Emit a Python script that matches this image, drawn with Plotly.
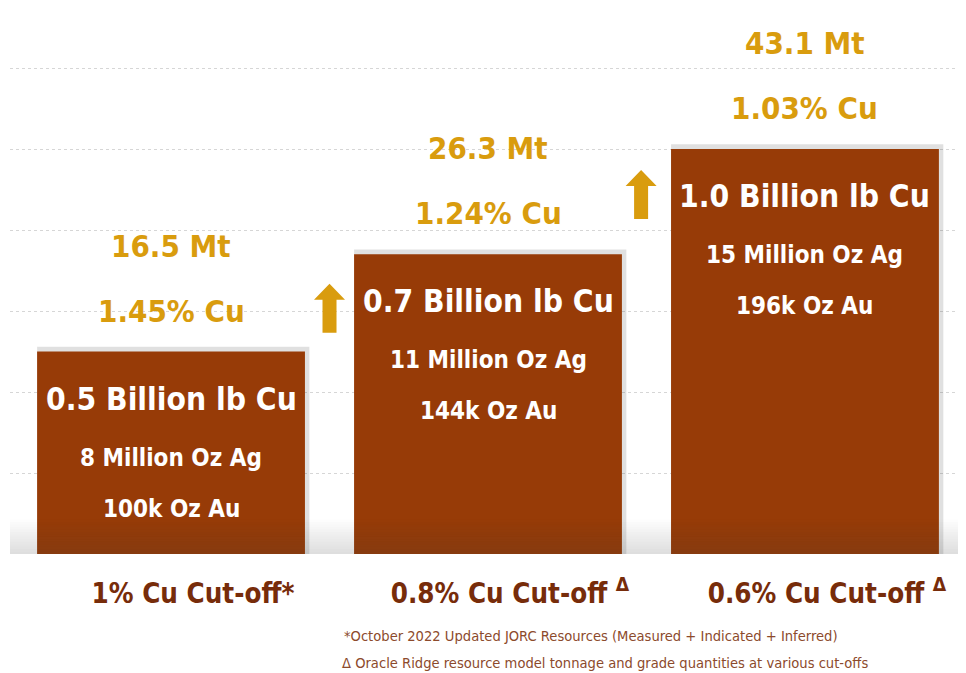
import plotly.graph_objects as go

# ---------------- data ----------------
categories = ["1% Cu Cut-off*", "0.8% Cu Cut-off <sup>Δ</sup>", "0.6% Cu Cut-off <sup>Δ</sup>"]
bar_height = [0.50, 0.74, 1.00]          # bar heights as drawn (billion lb Cu scale)
cu_blb = [0.5, 0.7, 1.0]                 # Billion lb Cu
ag_moz = [8, 11, 15]                     # Million Oz Ag
au_koz = [100, 144, 196]                 # k Oz Au
tonnage_mt = [16.5, 26.3, 43.1]          # Mt
grade_pct = [1.45, 1.24, 1.03]           # % Cu
grid_vals = [0.2, 0.4, 0.6, 0.8, 1.0, 1.2]
footnotes = [
    "*October 2022 Updated JORC Resources (Measured + Indicated + Inferred)",
    "Δ Oracle Ridge resource model tonnage and grade quantities at various cut-offs",
]

# ---------------- styles ----------------
FONT = "DejaVu Sans Condensed, sans-serif"
BAR = "#973B07"
GOLD = "#D99C0E"
LABEL = "#772C0A"
NOTE = "#8C4A2C"
W = 0.845
# the page body adds an 8px margin, so the figure is drawn 8px smaller
FIG_W, FIG_H = 958, 665
PLOT_TOP_PX = 546  # plot-area height in px
PX_PER_UNIT = 405

x = list(range(len(categories)))
fig = go.Figure()

# soft shadow behind bars
fig.add_trace(go.Bar(
    x=x, y=[h + 0.012 for h in bar_height], width=W + 0.014, offset=-W / 2,
    marker=dict(color="rgba(0,0,0,0.12)", line=dict(width=0)),
    hoverinfo="skip",
))
fig.add_trace(go.Bar(
    x=x, y=bar_height, width=W,
    marker=dict(color=BAR, line=dict(width=0)),
    hoverinfo="skip",
))

ann = []
for i in x:
    h = bar_height[i]
    ann.append(dict(x=i, y=h, yshift=106, text=f"{tonnage_mt[i]:.1f} Mt",
                    font=dict(family=FONT, size=31, color=GOLD, weight="bold")))
    ann.append(dict(x=i, y=h, yshift=41, text=f"{grade_pct[i]:.2f}% Cu",
                    font=dict(family=FONT, size=31, color=GOLD, weight="bold")))
    ann.append(dict(x=i, y=h, yshift=-47, text=f"{cu_blb[i]:.1f} Billion lb Cu",
                    font=dict(family=FONT, size=31.5, color="white", weight="bold")))
    ann.append(dict(x=i, y=h, yshift=-106, text=f"{ag_moz[i]} Million Oz Ag",
                    font=dict(family=FONT, size=24, color="white", weight="bold")))
    ann.append(dict(x=i, y=h, yshift=-157, text=f"{au_koz[i]}k Oz Au",
                    font=dict(family=FONT, size=24, color="white", weight="bold")))
for a in ann:
    a.update(showarrow=False, xanchor="center", yanchor="middle")

ann.append(dict(xref="paper", yref="paper", x=0.608, y=-0.150, text=footnotes[0],
                showarrow=False, xanchor="center", yanchor="middle",
                font=dict(family=FONT, size=14.6, color=NOTE)))
ann.append(dict(xref="paper", yref="paper", x=0.622, y=-0.198, text=footnotes[1],
                showarrow=False, xanchor="center", yanchor="middle",
                font=dict(family=FONT, size=14.6, color=NOTE)))

shapes = []
# floor shading gradient
n = 14
for k in range(n):
    y0 = 0.085 * k / n
    y1 = 0.085 * (k + 1) / n
    alpha = 0.17 * (1 - k / n)
    shapes.append(dict(type="rect", xref="paper", yref="y", x0=0, x1=1, y0=y0, y1=y1,
                       fillcolor=f"rgba(60,60,60,{alpha:.3f})", line=dict(width=0),
                       layer="above"))
# up arrows between bars
arrow_path = "M -7,0 L -7,33 L -15.5,33 L 0,49 L 15.5,33 L 7,33 L 7,0 Z"
for ax_, ay_ in [(0.5, 0.546), (1.483, 0.827)]:
    shapes.append(dict(type="path", xref="x", yref="y", xsizemode="pixel", ysizemode="pixel",
                       xanchor=ax_, yanchor=ay_, path=arrow_path,
                       fillcolor=GOLD, line=dict(width=0), layer="above"))

fig.update_layout(
    width=FIG_W, height=FIG_H,
    margin=dict(l=2, r=0, t=0, b=FIG_H - PLOT_TOP_PX, autoexpand=False),
    paper_bgcolor="white", plot_bgcolor="white",
    showlegend=False, barmode="overlay",
    annotations=ann, shapes=shapes,
    xaxis=dict(range=[-0.508, 2.508], tickvals=x, ticktext=categories,
               showgrid=False, zeroline=False, showline=False, ticks="",
               automargin=False, ticklabeloverflow="allow",
               tickfont=dict(family=FONT, size=27.5, color=LABEL, weight="bold"),
               ticklabelshift=22, ticklabelstandoff=20),
    yaxis=dict(range=[0, PLOT_TOP_PX / PX_PER_UNIT], tickvals=grid_vals, showticklabels=False,
               automargin=False,
               showgrid=True, gridcolor="#d6d6d6", griddash="dot", gridwidth=1,
               zeroline=False, showline=False),
)

fig.write_html("out.html")
